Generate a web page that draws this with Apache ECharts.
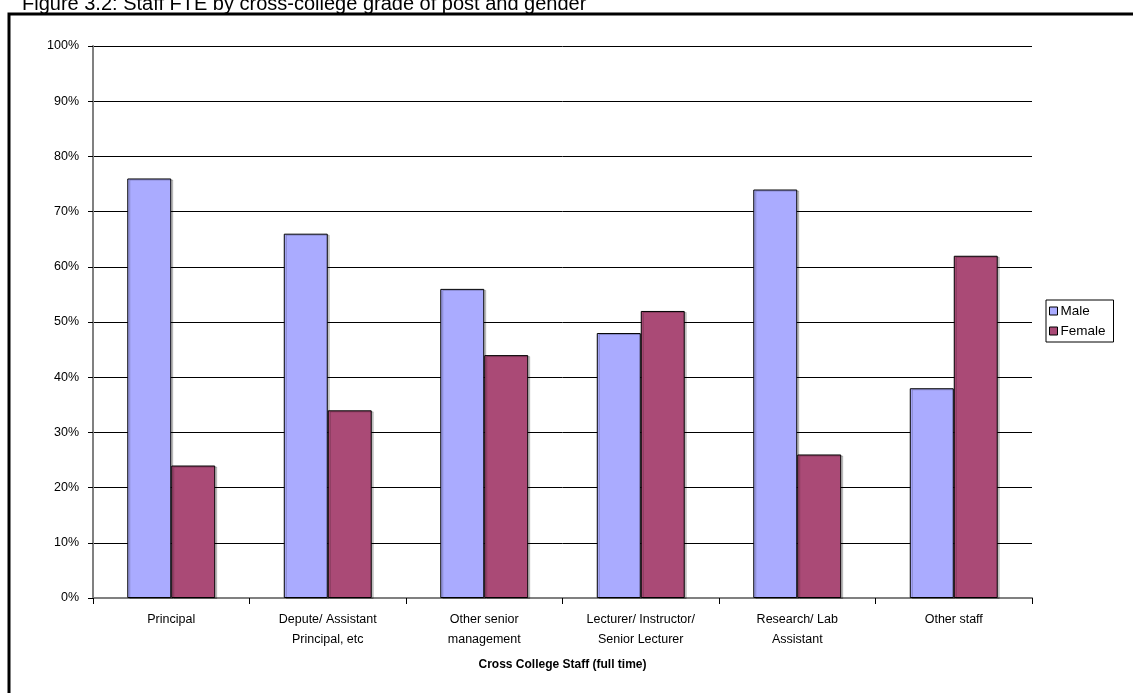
<!DOCTYPE html>
<html>
<head>
<meta charset="utf-8">
<script src="https://cdn.jsdelivr.net/npm/echarts@6/dist/echarts.min.js"></script>
<style>
html,body{margin:0;padding:0;background:#fff;}
#chart{width:1133px;height:693px;}
</style>
</head>
<body>
<div id="chart"></div>
<script>
const categories = ['Principal', 'Depute/ Assistant\nPrincipal, etc', 'Other senior\nmanagement', 'Lecturer/ Instructor/\nSenior Lecturer', 'Research/ Lab\nAssistant', 'Other staff'];
const maleValues = [76, 66, 56, 48, 74, 38];
const femaleValues = [24, 34, 44, 52, 26, 62];
const titleText = 'Figure 3.2: Staff FTE by cross-college grade of post and gender';
const xAxisTitle = 'Cross College Staff (full time)';

const chart = echarts.init(document.getElementById('chart'), null, {renderer: 'canvas'});
const FONT = '"Liberation Sans", Arial, sans-serif';
const barStyleCommon = {
  borderColor: '#000',
  borderWidth: 1,
  shadowColor: 'rgba(0,0,0,0.2)',
  shadowOffsetX: 2,
  shadowOffsetY: 1,
  shadowBlur: 0
};
chart.setOption({
  animation: false,
  backgroundColor: '#fff',
  textStyle: {fontFamily: FONT},
  graphic: [
    {type: 'text', left: 22, top: -6, style: {text: titleText, font: '20px ' + FONT, fill: '#000'}},
    {type: 'rect', shape: {x: 9, y: 14, width: 1140, height: 700}, style: {fill: 'none', stroke: '#000', lineWidth: 3}}
  ],
  legend: {
    orient: 'vertical',
    left: 1046,
    top: 300,
    icon: 'rect',
    itemWidth: 8,
    itemHeight: 8,
    itemGap: 6,
    padding: [4, 8, 4, 3],
    borderColor: '#000',
    borderWidth: 1,
    textStyle: {fontSize: 13.5, color: '#000', fontFamily: FONT, padding: [0, 0, 0, -2]},
    data: [
      {name: 'Male', itemStyle: {borderColor: '#000', borderWidth: 1}},
      {name: 'Female', itemStyle: {borderColor: '#000', borderWidth: 1}}
    ]
  },
  grid: {left: 93, top: 46, width: 939, height: 552, containLabel: false},
  xAxis: {
    type: 'category',
    data: categories,
    name: xAxisTitle,
    nameLocation: 'middle',
    nameGap: 61,
    nameTextStyle: {fontSize: 12, fontWeight: 'bold', color: '#000', fontFamily: FONT},
    axisLine: {lineStyle: {color: '#808080', width: 2}},
    axisTick: {show: true, length: 6, lineStyle: {color: '#000'}},
    axisLabel: {fontSize: 12.5, color: '#000', lineHeight: 20, margin: 12, interval: 0, fontFamily: FONT}
  },
  yAxis: {
    type: 'value',
    min: 0,
    max: 100,
    interval: 10,
    axisLine: {show: true, lineStyle: {color: '#808080', width: 2}},
    axisTick: {show: true, length: 5, lineStyle: {color: '#000'}},
    axisLabel: {formatter: '{value}%', fontSize: 12.5, color: '#000', margin: 14, fontFamily: FONT},
    splitLine: {lineStyle: {color: '#000', width: 1}}
  },
  series: [
    {
      name: 'Male', type: 'bar', data: maleValues,
      barGap: '0%', barCategoryGap: '43.8%',
      itemStyle: Object.assign({color: '#aaabff'}, barStyleCommon)
    },
    {
      name: 'Female', type: 'bar', data: femaleValues,
      barGap: '0%', barCategoryGap: '43.8%',
      itemStyle: Object.assign({color: '#aa4a76'}, barStyleCommon)
    }
  ]
});
</script>
</body>
</html>
